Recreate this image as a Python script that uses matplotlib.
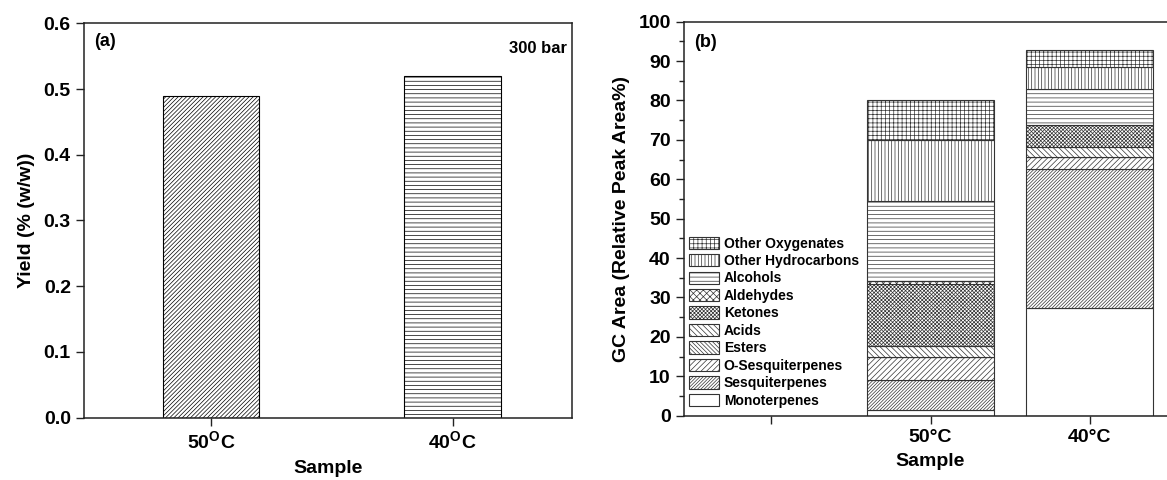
import matplotlib
matplotlib.use("Agg")
import matplotlib.pyplot as plt
from matplotlib.ticker import MultipleLocator
import numpy as np

plt.rcParams['font.family'] = ['Liberation Sans', 'DejaVu Sans']
plt.rcParams['font.weight'] = 'bold'
plt.rcParams['mathtext.fontset'] = 'custom'
plt.rcParams['mathtext.rm'] = 'Liberation Sans:bold'
plt.rcParams['mathtext.bf'] = 'Liberation Sans:bold'
plt.rcParams['hatch.linewidth'] = 0.5

# panel (a) data
yield_samples = ['50$^\\mathregular{O}$C', '40$^\\mathregular{O}$C']
yield_values = [0.49, 0.52]
yield_hatches = ['////////', '----']

# panel (b) data, stacked bottom -> top
gc_samples = ['', '50°C', '40°C']
components = ['Monoterpenes', 'Sesquiterpenes', 'O-Sesquiterpenes', 'Esters', 'Acids',
              'Ketones', 'Aldehydes', 'Alcohols', 'Other Hydrocarbons', 'Other Oxygenates']
comp_hatches = ['', '//////////', '//////', '\\\\\\\\\\\\\\\\', '\\\\\\\\\\\\',
                'xxxxxxxxx', 'xxxxx', '----', '|||||', '++++']
gc_50 = [1.4, 7.7, 5.7, 0.0, 2.8, 15.9, 0.6, 20.4, 15.4, 10.3]
gc_40 = [27.3, 35.3, 3.0, 0.0, 2.5, 5.7, 0.0, 9.0, 5.8, 4.2]

fig = plt.figure(figsize=(11.67, 4.8), dpi=100)
ax1 = fig.add_axes([0.072, 0.1298, 0.4184, 0.8217])
ax2 = fig.add_axes([0.5861, 0.134, 0.4225, 0.8208])

edge = '#222222'

# ---- panel a
x1 = np.arange(len(yield_values))
for i in range(len(yield_values)):
    ax1.bar(x1[i], yield_values[i], width=0.4, color='white', edgecolor='black',
            linewidth=0.8, hatch=yield_hatches[i])
ax1.set_xlim(-0.525, 1.495)
ax1.set_ylim(0, 0.6)
ax1.set_xticks(x1)
ax1.set_xticklabels(yield_samples)
ax1.yaxis.set_major_locator(MultipleLocator(0.1))
ax1.yaxis.set_major_formatter(matplotlib.ticker.FormatStrFormatter('%.1f'))
ax1.set_ylabel('Yield (% (w/w))', fontsize=14, fontweight='bold', labelpad=6)
ax1.set_xlabel('Sample', fontsize=14, fontweight='bold', labelpad=5)
ax1.text(0.02, 0.975, '(a)', transform=ax1.transAxes, ha='left', va='top',
         fontsize=13, fontweight='bold')
ax1.text(0.989, 0.955, '300 bar', transform=ax1.transAxes, ha='right', va='top',
         fontsize=12, fontweight='bold')

# ---- panel b
x2 = np.arange(len(gc_samples))
bottom50 = 0.0
bottom40 = 0.0
handles = []
for k in range(len(components)):
    h = ax2.bar([1, 2], [gc_50[k], gc_40[k]], bottom=[bottom50, bottom40], width=0.8,
                color='white', edgecolor='#333333', linewidth=0.8, hatch=comp_hatches[k],
                label=components[k])
    handles.append(h)
    bottom50 += gc_50[k]
    bottom40 += gc_40[k]
ax2.set_xlim(-0.55, 2.55)
ax2.set_ylim(0, 100)
ax2.set_xticks(x2)
ax2.set_xticklabels(gc_samples)
ax2.yaxis.set_major_locator(MultipleLocator(10))
ax2.yaxis.set_minor_locator(MultipleLocator(5))
ax2.set_ylabel('GC Area (Relative Peak Area%)', fontsize=14, fontweight='bold', labelpad=6)
ax2.set_xlabel('Sample', fontsize=14, fontweight='bold', labelpad=5)
ax2.text(0.02, 0.97, '(b)', transform=ax2.transAxes, ha='left', va='top',
         fontsize=13, fontweight='bold')
leg = ax2.legend(handles[::-1], components[::-1], loc='lower left',
                 bbox_to_anchor=(0.01, 0.02), frameon=False, fontsize=10,
                 handlelength=2.2, handleheight=1.0, labelspacing=0.25,
                 handletextpad=0.3, borderpad=0, borderaxespad=0)
for t in leg.get_texts():
    t.set_fontweight('bold')

for ax in (ax1, ax2):
    for s in ax.spines.values():
        s.set_color(edge)
        s.set_linewidth(1.1)
    ax.tick_params(axis='both', which='major', direction='out', length=6, width=1.0,
                   labelsize=14, color=edge)
    ax.tick_params(axis='both', which='minor', direction='out', length=3.5, width=1.0,
                   color=edge)
    for lab in ax.get_xticklabels() + ax.get_yticklabels():
        lab.set_fontweight('bold')

fig.savefig('out.png', dpi=100)
